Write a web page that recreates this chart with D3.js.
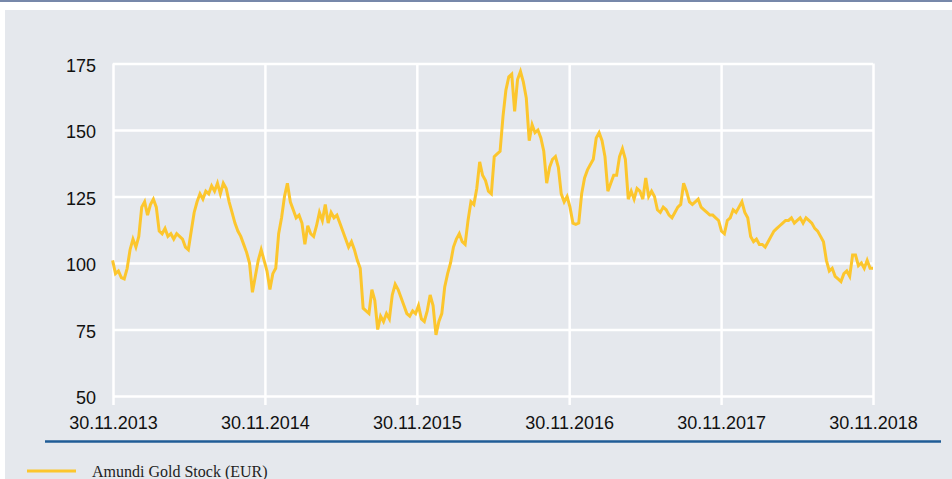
<!DOCTYPE html>
<html>
<head>
<meta charset="utf-8">
<script src="https://cdn.jsdelivr.net/npm/d3@7"></script>
<style>
  body { margin: 0; background: #fff; }
  svg { display: block; }
</style>
</head>
<body>
<div id="chart"></div>
<script>
// weekly closing values (first week = 29.11.2013)
const seriesName = "Amundi Gold Stock (EUR)";
const startDate = new Date(2013, 10, 29);
const weeklyValues = [
  101, 96, 97, 94.5, 94, 98, 105, 109, 106, 110,
  121, 123, 118, 122, 124, 121, 112, 111, 113, 110,
  111, 109, 111, 110, 109, 106, 105, 112, 119, 123,
  126, 124, 127, 126, 129, 127, 130, 126, 130, 128,
  123, 119, 115, 112, 110, 107, 104, 100, 89, 95,
  101, 105, 101, 97, 90, 96, 98, 111, 117, 125,
  130, 123, 120, 117, 118, 115, 107, 114, 111, 110,
  114, 119, 116, 122, 115, 119, 117, 118, 115, 112,
  109, 106, 108, 105, 101, 98, 83, 82, 81, 90,
  86, 75, 80, 78, 81, 79, 88, 92, 90, 87,
  84, 81, 80, 82, 81, 84, 79, 78, 82, 88,
  84, 73, 78, 81, 91, 96, 100, 106, 109, 111,
  108, 107, 116, 123, 122, 128, 138, 133, 131, 127,
  126, 140, 141, 142, 155, 165, 170, 171, 157, 169,
  172, 168, 162, 146, 152, 149, 150, 147, 142, 130,
  136, 139, 140, 136, 126, 123, 125, 121, 115, 114.5,
  115, 126, 132, 135, 137, 139, 147, 149, 146, 140,
  127, 130, 133, 133, 140, 143, 139, 124, 127, 124,
  128, 127, 124, 132, 125, 127, 125, 120, 119, 121,
  120, 118, 117, 119, 121, 122, 130, 127, 123, 122,
  123, 124, 121, 120, 119, 118, 118, 117, 116, 112,
  111, 116, 117, 120, 119, 121, 123, 119, 117, 110,
  108, 109, 107, 107, 106, 108, 110, 112, 113, 114,
  115, 116, 116, 117, 115, 116, 117, 115, 117, 116,
  115, 113, 112, 110, 108, 101, 97, 98, 95, 94,
  93, 96, 97, 95, 103, 103, 99, 100, 98, 101, 98, 98
];
const xTickLabels = ["30.11.2013", "30.11.2014", "30.11.2015", "30.11.2016", "30.11.2017", "30.11.2018"];
const yTicks = [50, 75, 100, 125, 150, 175];

const width = 952;
const height = 479;
const margin = { top: 63.5, left: 113, right: 79, bottom: 83 };

const parseTick = d3.timeParse("%d.%m.%Y");
const data = weeklyValues.map((v, i) => ({ date: d3.timeDay.offset(startDate, i * 7), value: v }));

const svg = d3.select("#chart")
  .append("svg")
  .attr("width", width)
  .attr("height", height);

// frame
svg.append("rect").attr("x", 0).attr("y", 0).attr("width", width).attr("height", 2).attr("fill", "#7788aa");
svg.append("rect").attr("x", 5).attr("y", 10).attr("width", width - 5).attr("height", height - 10).attr("fill", "#e5e8ed");

const xScale = d3.scaleTime()
  .domain([parseTick(xTickLabels[0]), parseTick(xTickLabels[xTickLabels.length - 1])])
  .range([margin.left, width - margin.right]);

const yScale = d3.scaleLinear()
  .domain([50, 175])
  .range([height - margin.bottom, margin.top]);

// horizontal grid + y labels
const yAxis = d3.axisLeft(yScale)
  .tickValues(yTicks)
  .tickSize(-(width - margin.left - margin.right))
  .tickPadding(17)
  .tickFormat(d3.format("d"));

const gy = svg.append("g").attr("transform", "translate(" + margin.left + ",0)").call(yAxis);
gy.select(".domain").remove();
gy.selectAll(".tick line").attr("stroke", "#fff").attr("stroke-width", 2.5);
gy.selectAll(".tick text")
  .attr("fill", "#111")
  .attr("dy", "0.42em")
  .style("font-family", "'Liberation Sans', Arial, sans-serif")
  .style("font-size", "18px");

// vertical grid + x labels
const xAxis = d3.axisBottom(xScale)
  .tickValues(xTickLabels.map(parseTick))
  .tickSize(-(height - margin.top - margin.bottom))
  .tickPadding(20)
  .tickFormat(d3.timeFormat("%d.%m.%Y"));

const gx = svg.append("g").attr("transform", "translate(0," + (height - margin.bottom) + ")").call(xAxis);
gx.select(".domain").remove();
gx.selectAll(".tick line")
  .attr("y2", -(height - margin.top - margin.bottom))
  .attr("y1", 9)
  .attr("stroke", "#fff")
  .attr("stroke-width", 2.5);
gx.selectAll(".tick text")
  .attr("fill", "#111")
  .style("font-family", "'Liberation Sans', Arial, sans-serif")
  .style("font-size", "18px");

// series line
const lineGenerator = d3.line()
  .x((d) => xScale(d.date))
  .y((d) => yScale(d.value));

svg.append("path")
  .datum(data)
  .attr("fill", "none")
  .attr("stroke", "#fcc62d")
  .attr("stroke-width", 3)
  .attr("stroke-linejoin", "miter")
  .attr("d", lineGenerator);

// separator
svg.append("line")
  .attr("x1", 45).attr("x2", 941)
  .attr("y1", 441.5).attr("y2", 441.5)
  .attr("stroke", "#1f5c96")
  .attr("stroke-width", 2.5);

// legend
svg.append("line")
  .attr("x1", 27).attr("x2", 76)
  .attr("y1", 471).attr("y2", 471)
  .attr("stroke", "#fcc62d")
  .attr("stroke-width", 3);

svg.append("text")
  .attr("x", 92)
  .attr("y", 477)
  .attr("fill", "#222")
  .style("font-family", "'Liberation Serif', 'Times New Roman', serif")
  .style("font-size", "16px")
  .text(seriesName);
</script>
</body>
</html>
